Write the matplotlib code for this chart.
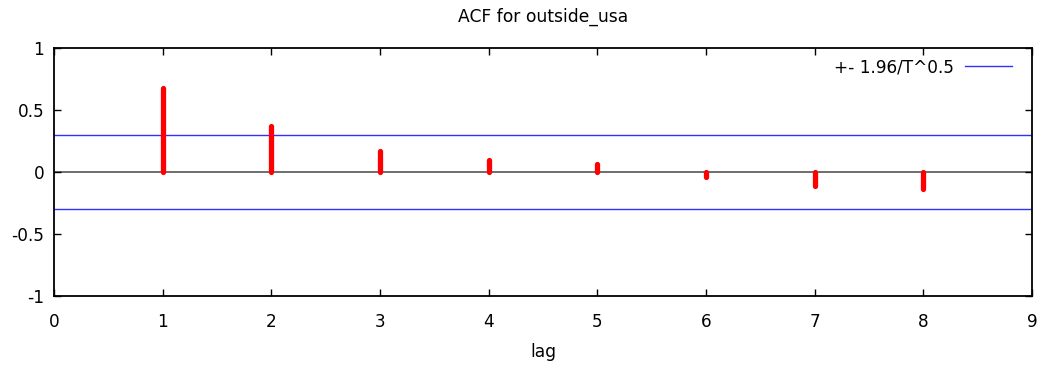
import matplotlib.pyplot as plt
import numpy as np

# ACF values
lags = [1, 2, 3, 4, 5, 6, 7, 8]
acf = [0.68, 0.37, 0.17, 0.10, 0.065, -0.04, -0.11, -0.14]
band = 0.30  # +- 1.96/T^0.5

xticks = [0, 1, 2, 3, 4, 5, 6, 7, 8, 9]
yticks = [-1, -0.5, 0, 0.5, 1]
ytick_labels = ["-1", "-0.5", "0", "0.5", "1"]

plt.rcParams['font.family'] = ['DejaVu Sans']
fig = plt.figure(figsize=(10.39, 3.65), dpi=100)
ax = fig.add_axes([0.052, 0.189, 0.9413, 0.679])

# zero line
ax.axhline(0, color='#555555', lw=1.2, zorder=1)
# confidence band
ax.axhline(band, color='#3030ff', lw=1.0, label='+- 1.96/T^0.5', zorder=2)
ax.axhline(-band, color='#3030ff', lw=1.0, zorder=2)

# stems
ax.vlines(lags, 0, acf, colors='#ff0000', lw=3.8, capstyle='round', zorder=3)

ax.set_xlim(0, 9)
ax.set_ylim(-1, 1)
ax.set_xticks(xticks)
ax.set_yticks(yticks)
ax.set_yticklabels(ytick_labels)
ax.tick_params(direction='in', length=5, width=1, top=True, right=True,
               labelsize=12.2, colors='black')
ax.tick_params(axis='x', pad=12)
ax.tick_params(axis='y', pad=7)
for s in ax.spines.values():
    s.set_linewidth(1.3)
    s.set_color('black')

ax.set_title('ACF for outside_usa', fontsize=12.3, pad=19)
ax.set_xlabel('lag', fontsize=12.3, labelpad=9)

leg = ax.legend(loc='upper right', frameon=False, markerfirst=False,
                fontsize=12.2, handlelength=2.8, handletextpad=0.6,
                borderaxespad=0.2, bbox_to_anchor=(0.99, 1.0))

fig.savefig('out.png', dpi=100)
